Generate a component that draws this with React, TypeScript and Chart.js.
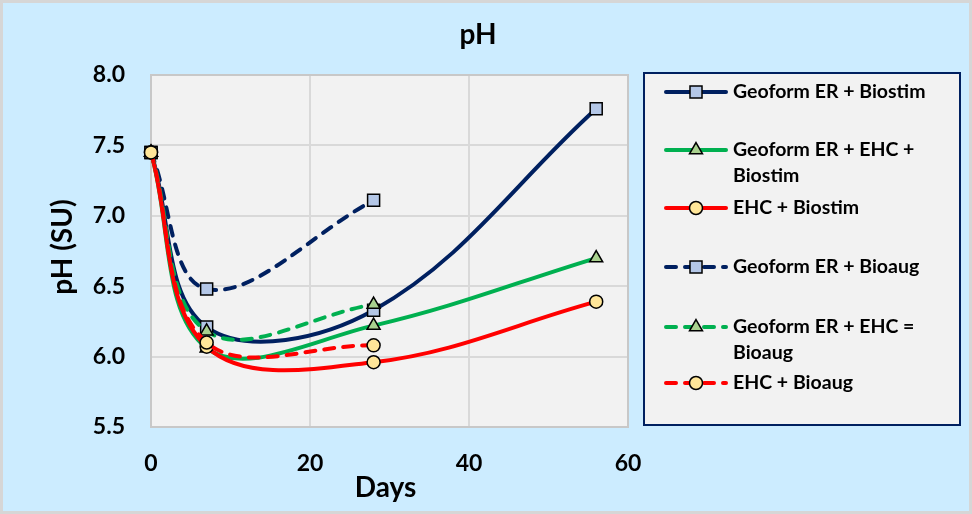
import React, { useEffect, useRef } from 'react';
import { Chart, registerables } from 'chart.js';

Chart.register(...registerables);

// ---- data ----
const DAYS_LONG = [0, 7, 28, 56];
const DAYS_SHORT = [0, 7, 28];
const GEO_BIOSTIM = [7.45, 6.21, 6.33, 7.76];
const GEO_EHC_BIOSTIM = [7.45, 6.06, 6.22, 6.70];
const EHC_BIOSTIM = [7.45, 6.07, 5.96, 6.39];
const GEO_BIOAUG = [7.45, 6.48, 7.11];
const GEO_EHC_BIOAUG = [7.45, 6.18, 6.37];
const EHC_BIOAUG = [7.45, 6.10, 6.08];
const SERIES_LABELS = [
  'Geoform ER + Biostim',
  'Geoform ER + EHC + Biostim',
  'EHC + Biostim',
  'Geoform ER + Bioaug',
  'Geoform ER + EHC = Bioaug',
  'EHC + Bioaug',
];
const LEGEND_LINES = [
  ['Geoform ER + Biostim'],
  ['Geoform ER + EHC +', 'Biostim'],
  ['EHC + Biostim'],
  ['Geoform ER + Bioaug'],
  ['Geoform ER + EHC =', 'Bioaug'],
  ['EHC + Bioaug'],
];
const TITLE = 'pH';
const X_TITLE = 'Days';
const Y_TITLE = 'pH (SU)';
const X_MIN = 0, X_MAX = 60, X_STEP = 20;
const Y_MIN = 5.5, Y_MAX = 8.0, Y_STEP = 0.5;

const NAVY = '#002060';
const GREEN = '#00B050';
const RED = '#FF0000';
const FONT = 'Lato, "Open Sans", sans-serif';

const styles = [
  { color: NAVY, point: 'rect', fill: '#B4C7E7', r: 8.5, dashed: false },
  { color: GREEN, point: 'triangle', fill: '#A9D18E', r: 7.5, dashed: false },
  { color: RED, point: 'circle', fill: '#FFE699', r: 6.5, dashed: false },
  { color: NAVY, point: 'rect', fill: '#B4C7E7', r: 8.5, dashed: true },
  { color: GREEN, point: 'triangle', fill: '#A9D18E', r: 7.5, dashed: true },
  { color: RED, point: 'circle', fill: '#FFE699', r: 6.5, dashed: true },
];
const DASH = [10, 9];

function drawMarker(ctx: CanvasRenderingContext2D, kind: string, x: number, y: number, r: number, fill: string) {
  ctx.save();
  ctx.setLineDash([]);
  ctx.beginPath();
  if (kind === 'rect') {
    const s = Math.SQRT1_2 * r;
    ctx.rect(x - s, y - s, 2 * s, 2 * s);
  } else if (kind === 'triangle') {
    let a = 0;
    ctx.moveTo(x + Math.sin(a) * r, y - Math.cos(a) * r);
    a += (2 * Math.PI) / 3;
    ctx.lineTo(x + Math.sin(a) * r, y - Math.cos(a) * r);
    a += (2 * Math.PI) / 3;
    ctx.lineTo(x + Math.sin(a) * r, y - Math.cos(a) * r);
    ctx.closePath();
  } else {
    ctx.arc(x, y, r, 0, Math.PI * 2);
  }
  ctx.fillStyle = fill;
  ctx.fill();
  ctx.lineWidth = 1.5;
  ctx.strokeStyle = '#000';
  ctx.stroke();
  ctx.restore();
}

const decorPlugin = {
  id: 'decor',
  beforeDraw(chart: any) {
    const { ctx, width, height, chartArea } = chart;
    ctx.save();
    ctx.fillStyle = '#CCECFF';
    ctx.fillRect(0, 0, width, height);
    ctx.strokeStyle = '#D6D6D6';
    ctx.lineWidth = 3;
    ctx.strokeRect(1.5, 1.5, width - 3, height - 3);
    ctx.fillStyle = '#F2F2F2';
    ctx.fillRect(chartArea.left, chartArea.top, chartArea.right - chartArea.left, chartArea.bottom - chartArea.top);
    ctx.restore();
  },
  beforeDatasetsDraw(chart: any) {
    const { ctx, chartArea } = chart;
    ctx.save();
    ctx.strokeStyle = '#C8C8C8';
    ctx.lineWidth = 2;
    ctx.strokeRect(chartArea.left, chartArea.top, chartArea.right - chartArea.left, chartArea.bottom - chartArea.top);
    ctx.restore();
  },
  afterDraw(chart: any) {
    const { ctx, chartArea } = chart;
    ctx.save();
    ctx.fillStyle = '#000';
    // title
    ctx.font = `bold 28px ${FONT}`;
    ctx.textAlign = 'center';
    ctx.textBaseline = 'alphabetic';
    ctx.fillText(TITLE, 478, 44);
    // x title
    ctx.font = `bold 28px ${FONT}`;
    ctx.fillText(X_TITLE, (chartArea.left + chartArea.right) / 2 - 4, 497);
    // y title
    ctx.save();
    ctx.translate(72, (chartArea.top + chartArea.bottom) / 2 - 4);
    ctx.rotate(-Math.PI / 2);
    ctx.fillText(Y_TITLE, 0, 0);
    ctx.restore();

    // legend
    const bx = 644, by = 73, bw = 316, bh = 352;
    ctx.fillStyle = '#F2F2F2';
    ctx.fillRect(bx, by, bw, bh);
    ctx.strokeStyle = NAVY;
    ctx.lineWidth = 2;
    ctx.strokeRect(bx, by, bw, bh);
    const rowY = [92, 150, 208, 267, 327, 383];
    ctx.font = `bold 19.5px ${FONT}`;
    ctx.textAlign = 'left';
    ctx.textBaseline = 'middle';
    LEGEND_LINES.forEach((lines, i) => {
      const st = styles[i];
      const y = rowY[i];
      ctx.save();
      ctx.strokeStyle = st.color;
      ctx.lineWidth = 4;
      ctx.lineCap = 'round';
      ctx.setLineDash(st.dashed ? DASH : []);
      ctx.beginPath();
      ctx.moveTo(666, y);
      ctx.lineTo(726, y);
      ctx.stroke();
      ctx.restore();
      drawMarker(ctx, st.point, 696, y, st.r, st.fill);
      ctx.fillStyle = '#000';
      lines.forEach((t, j) => ctx.fillText(t, 733, y + j * 26));
    });
    ctx.restore();
  },
};

const SERIES_DATA = [
  [DAYS_LONG, GEO_BIOSTIM],
  [DAYS_LONG, GEO_EHC_BIOSTIM],
  [DAYS_LONG, EHC_BIOSTIM],
  [DAYS_SHORT, GEO_BIOAUG],
  [DAYS_SHORT, GEO_EHC_BIOAUG],
  [DAYS_SHORT, EHC_BIOAUG],
];

export default function App() {
  const ref = useRef<HTMLCanvasElement>(null);
  useEffect(() => {
    document.body.style.margin = '0';
    const canvas = ref.current!;
    const datasets = SERIES_DATA.map(([xs, ys], i) => {
      const st = styles[i];
      return {
        label: SERIES_LABELS[i],
        data: xs.map((x, k) => ({ x, y: ys[k] })),
        borderColor: st.color,
        backgroundColor: st.fill,
        borderWidth: 4,
        borderDash: st.dashed ? DASH : [],
        borderCapStyle: 'round',
        tension: 0.37,
        pointStyle: st.point,
        pointRadius: st.r,
        pointBackgroundColor: st.fill,
        pointBorderColor: '#000',
        pointBorderWidth: 1.5,
        clip: false,
        order: 5 - i,
        fill: false,
      };
    });
    const chart = new Chart(canvas, {
      type: 'line',
      data: { datasets } as any,
      options: {
        responsive: false,
        animation: false,
        events: [],
        layout: { padding: { left: 0, top: 75, right: 344, bottom: 0 } },
        plugins: { legend: { display: false }, title: { display: false }, tooltip: { enabled: false } },
        scales: {
          x: {
            type: 'linear',
            min: X_MIN,
            max: X_MAX,
            afterFit: (axis: any) => { axis.height = 87; },
            ticks: {
              stepSize: X_STEP,
              padding: 23,
              color: '#000',
              font: { family: FONT, size: 23, weight: 'bold' },
              maxRotation: 0,
            },
            grid: { color: '#D9D9D9', lineWidth: 2, drawTicks: false },
            border: { display: false },
          },
          y: {
            type: 'linear',
            min: Y_MIN,
            max: Y_MAX,
            afterFit: (axis: any) => { axis.width = 151; },
            ticks: {
              stepSize: Y_STEP,
              padding: 26,
              color: '#000',
              font: { family: FONT, size: 23, weight: 'bold' },
              callback: (v: any) => Number(v).toFixed(1),
            },
            grid: { color: '#D9D9D9', lineWidth: 2, drawTicks: false },
            border: { display: false },
          },
        },
      } as any,
      plugins: [decorPlugin],
    });
    return () => chart.destroy();
  }, []);
  return (
    <div style={{ position: 'absolute', left: 0, top: 0 }}>
      <canvas ref={ref} width={972} height={514} style={{ display: 'block' }} />
    </div>
  );
}
